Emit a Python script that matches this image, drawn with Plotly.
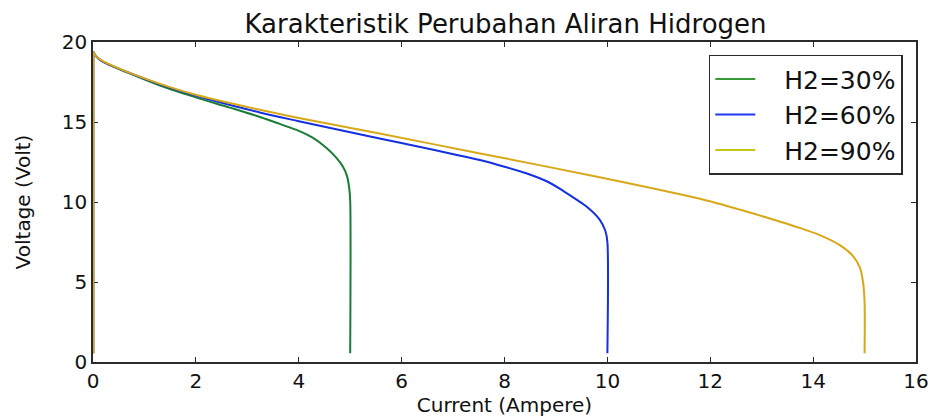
import plotly.graph_objects as go

# Polarisation curves: current (A) vs stack voltage (V) for three hydrogen flow levels
labels = ["H2=30%", "H2=60%", "H2=90%"]

current_30 = [0.0, 0.0, 0.06, 0.19, 0.65, 1.29, 1.94, 2.66, 3.26, 3.63, 4.0, 4.27, 4.54,
              4.72, 4.86, 4.94, 4.98, 5.0, 5.0]
voltage_30 = [0.55, 19.4, 19.1, 18.77, 18.12, 17.3, 16.6, 15.9, 15.3, 14.88, 14.45, 14.02,
              13.38, 12.8, 12.2, 11.6, 10.9, 10.1, 0.55]

current_60 = [0.0, 0.0, 0.06, 0.19, 0.65, 1.29, 1.94, 3.26, 4.0, 5.57, 6.5, 7.52, 8.0,
              8.49, 8.85, 9.14, 9.4, 9.6, 9.85, 9.96, 10.0, 10.0]
voltage_60 = [0.55, 19.4, 19.1, 18.77, 18.14, 17.37, 16.7, 15.58, 15.05, 13.97, 13.35,
              12.62, 12.2, 11.72, 11.25, 10.7, 10.15, 9.7, 8.9, 8.2, 7.5, 0.55]

current_90 = [0.0, 0.0, 0.06, 0.19, 0.65, 1.29, 1.94, 3.26, 4.0, 5.57, 7.5, 9.85, 11.8,
              12.6, 13.36, 13.74, 14.13, 14.52, 14.78, 14.91, 14.97, 15.0, 15.0]
voltage_90 = [0.55, 19.4, 19.1, 18.8, 18.15, 17.4, 16.75, 15.75, 15.25, 14.28, 13.05,
              11.55, 10.2, 9.5, 8.77, 8.38, 7.93, 7.3, 6.6, 5.9, 5.0, 3.8, 0.55]

x_ticks = [0, 2, 4, 6, 8, 10, 12, 14, 16]
y_ticks = [0, 5, 10, 15, 20]

curve_colors = ["#1a7d35", "#1430e0", "#d8a818"]
legend_colors = ["#3a9a3a", "#2038f0", "#c8c414"]

series = [(current_30, voltage_30), (current_60, voltage_60), (current_90, voltage_90)]

font_family = "DejaVu Sans, sans-serif"
text_color = "#111111"
fig = go.Figure()

for (xs, ys), col in zip(series, curve_colors):
    # open-circuit rise at zero current, drawn as a straight segment
    fig.add_trace(go.Scatter(x=xs[:2], y=ys[:2], mode="lines",
                             line=dict(color=col, width=2.5),
                             showlegend=False, hoverinfo="skip"))
    # smooth polarisation curve for the remaining points
    fig.add_trace(go.Scatter(x=xs[1:], y=ys[1:], mode="lines",
                             line=dict(color=col, width=2, shape="spline", smoothing=0.8),
                             showlegend=False, hoverinfo="skip"))

# Legend entries (thin sample lines)
pad = "\u00a0" * 3
for name, col in zip(labels, legend_colors):
    fig.add_trace(go.Scatter(x=[None], y=[None], mode="lines", name=pad + name,
                             legendgroup=name, line=dict(color=col, width=2)))

axis_common = dict(
    showgrid=False, zeroline=False, showline=True, linecolor="#2a2a2a", linewidth=1.5,
    mirror="allticks", ticks="inside", ticklen=5, tickcolor="#2a2a2a",
    tickfont=dict(size=20, color=text_color, family=font_family),
    automargin=False, layer="below traces",
)

fig.update_xaxes(range=[0, 16], tickvals=x_ticks, ticktext=[str(v) for v in x_ticks],
                 title=dict(text="Current (Ampere)",
                            font=dict(size=20, family=font_family, color=text_color),
                            standoff=6),
                 **axis_common)
fig.update_yaxes(range=[0, 20], tickvals=y_ticks, ticktext=[str(v) for v in y_ticks],
                 title=dict(text="Voltage (Volt)",
                            font=dict(size=20, family=font_family, color=text_color),
                            standoff=26),
                 **axis_common)

fig.update_layout(
    width=931, height=420,
    margin=dict(l=93, r=15, t=42, b=58),
    paper_bgcolor="white", plot_bgcolor="white",
    title=dict(text="Karakteristik Perubahan Aliran Hidrogen", x=0.543, xanchor="center",
               y=0.943, yanchor="middle",
               font=dict(size=26, family=font_family, color=text_color)),
    legend=dict(x=0.984, y=0.96, xanchor="right", yanchor="top",
                bordercolor="#2a2a2a", borderwidth=1.5, bgcolor="white",
                font=dict(size=25, family=font_family, color=text_color),
                itemwidth=40, tracegroupgap=0),
    showlegend=True,
)

fig.write_html("out.html")
